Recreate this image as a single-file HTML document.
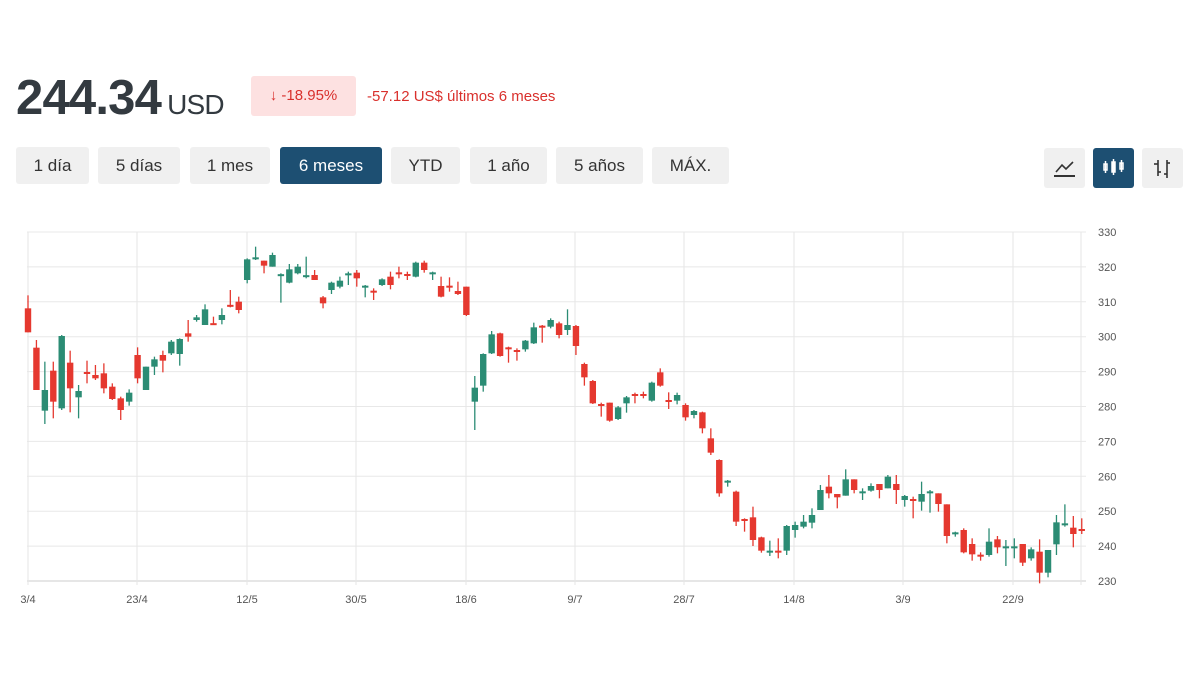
<!DOCTYPE html>
<html><head><meta charset="utf-8"><style>
body{margin:0;width:1200px;height:675px;background:#fff;font-family:"Liberation Sans",sans-serif;overflow:hidden;position:relative}
.a{position:absolute}
.btn{position:absolute;top:147px;height:37px;background:#f0f0f0;border-radius:3px;color:#333;font-size:17px;line-height:37px;text-align:center}
.sel{background:#1d4f72;color:#fff}
.ib{position:absolute;top:148px;width:41px;height:40px;background:#f0f0f0;border-radius:3px}
</style></head><body>
<div class="a" style="left:16px;top:70px;font-size:49px;color:#333a40;letter-spacing:-0.8px;font-weight:bold;-webkit-text-stroke:0px">244.34<span style="font-size:28px;margin-left:6px;font-weight:normal">USD</span></div>
<div class="a" style="left:251px;top:76px;width:105px;height:40px;background:#fde1e1;border-radius:3px;color:#d9302c;font-size:15px;line-height:40px;text-align:center">↓ -18.95%</div>
<div class="a" style="left:367px;top:88px;color:#d9302c;font-size:15px">-57.12 US$ últimos 6 meses</div>
<div class="btn" style="left:16px;width:73px">1 día</div>
<div class="btn" style="left:98px;width:82px">5 días</div>
<div class="btn" style="left:190px;width:80px">1 mes</div>
<div class="btn sel" style="left:280px;width:102px">6 meses</div>
<div class="btn" style="left:391px;width:69px">YTD</div>
<div class="btn" style="left:470px;width:77px">1 año</div>
<div class="btn" style="left:556px;width:87px">5 años</div>
<div class="btn" style="left:652px;width:77px">MÁX.</div>
<div class="ib" style="left:1044px"><svg width="41" height="40"><path d="M12 24 L18 17 L22 21 L29 14" stroke="#333" stroke-width="1.6" fill="none"/><line x1="10" y1="28" x2="31" y2="28" stroke="#333" stroke-width="2"/></svg></div>
<div class="ib" style="left:1093px;background:#1d4f72"><svg width="41" height="40"><g stroke="#fff" stroke-width="1.5" fill="none"><rect x="11" y="16" width="3" height="6"/><line x1="12.5" y1="13" x2="12.5" y2="25"/><rect x="19" y="14" width="3" height="10" fill="#fff"/><line x1="20.5" y1="11" x2="20.5" y2="27"/><rect x="27" y="15" width="3" height="6"/><line x1="28.5" y1="12" x2="28.5" y2="24"/></g></svg></div>
<div class="ib" style="left:1142px"><svg width="41" height="40"><g stroke="#333" stroke-width="1.6"><line x1="16" y1="12" x2="16" y2="28"/><line x1="12" y1="16" x2="16" y2="16"/><line x1="16" y1="24" x2="19" y2="24"/><line x1="25" y1="12" x2="25" y2="30"/><line x1="22" y1="26" x2="25" y2="26"/><line x1="25" y1="15" x2="28" y2="15"/></g></svg></div>
<svg class="a" style="left:0;top:0" width="1200" height="675" id="c"></svg>
<script>
var s='';
for(var k=0;k<=10;k++){var y=232+k*34.9;s+='<line x1="27" x2="1086" y1="'+y+'" y2="'+y+'" stroke="'+(k==10?'#ccc':'#e8e8e8')+'"/>';
s+='<text x="1098" y="'+(y+4)+'" font-size="11" fill="#555" font-family="Liberation Sans">'+(330-k*10)+'</text>';}
var vx=[28,137,247,356,466,575,684,794,903,1013,1081],lb=['3/4','23/4','12/5','30/5','18/6','9/7','28/7','14/8','3/9','22/9'];
vx.forEach(function(x,i){s+='<line x1="'+x+'" x2="'+x+'" y1="232" y2="585" stroke="#e6e6e6"/>';if(lb[i])s+='<text x="'+x+'" y="603" font-size="11" fill="#555" text-anchor="middle" font-family="Liberation Sans">'+lb[i]+'</text>';});
var G='g',R='r';
var d=[[265,337,226,337,R],[383,510,360,510,R],[510,572,425,612,G],[452,545,425,595,R],[348,565,345,570,G],[428,505,392,577,R],[513,532,495,595,G],[456,462,422,490,R],[465,475,435,480,R],[460,505,430,520,R],[500,537,490,540,R],[535,570,530,600,R],[518,545,508,557,G],[405,475,382,490,R],[440,510,440,510,G],[418,440,410,465,G],[405,422,392,457,R],[365,400,360,405,G],[357,402,355,437,G],[340,350,300,365,R],[292,300,285,305,G],[268,315,253,315,G],[310,315,290,315,R],[285,300,265,313,G],[255,260,210,262,R],[245,270,230,280,R],[118,180,115,190,G],[112,118,80,120,G],[122,137,122,160,R],[105,140,98,140,G],[163,168,160,248,G],[148,188,132,190,G],[140,160,132,163,G],[166,171,110,175,G],[165,180,150,180,R],[232,250,228,265,R],[188,210,185,222,G],[182,200,170,205,G],[160,166,155,195,G],[158,175,150,200,R],[197,203,195,232,G],[212,218,205,240,R],[178,195,175,198,G],[170,195,155,208,R],[157,163,140,175,R],
[162,168,155,180,R],[128,170,125,172,G],[128,150,122,158,R],[157,163,155,180,G],[198,230,170,232,R],[197,203,172,215,R],[213,222,185,225,R],[200,285,200,288,R],[503,545,468,630,G],[402,497,400,515,G],[343,400,333,402,G],[340,408,338,410,R],[382,388,380,428,R],[390,396,385,422,R],[362,388,360,395,G],[322,370,308,372,G],[317,323,315,368,R],[300,320,295,325,G],[310,345,305,355,R],[315,330,268,345,G],[318,378,315,405,R],[432,472,428,497,R],[483,550,480,552,R],[552,558,548,590,R],[548,602,548,605,R],[562,597,558,600,G],[532,550,528,578,G],[522,528,518,550,R],[522,528,515,535,R],[488,542,485,545,G],[457,497,445,500,R],[540,546,517,567,R],[525,542,518,553,G],[555,592,550,602,R],[573,585,570,595,G],[577,625,575,640,R],[655,698,625,705,R],[720,820,718,830,R],[782,788,780,800,G],[815,905,812,918,R],[897,903,895,935,R],[892,960,860,978,R],[952,992,950,998,R],[992,998,962,1008,G],[992,998,955,1015,R],[918,992,915,1005,G],[915,930,905,953,G]];
var z4=[[1145,1160,1125,1165,G],[1125,1148,1105,1165,G],[1050,1110,1035,1110,G],[1040,1060,1005,1075,R],[1062,1072,1062,1105,R],[1018,1067,988,1067,G],[1018,1050,1018,1060,R],[1054,1060,1045,1080,G],[1038,1052,1030,1055,G],[1032,1050,1032,1075,R],[1010,1045,1005,1045,G],[1032,1050,1005,1092,R],[1068,1080,1065,1100,G],[1077,1083,1070,1135,R],[1062,1085,1025,1112,G],[1054,1060,1050,1118,G],[1060,1092,1060,1115,R],[1093,1188,1093,1210,R],[1177,1183,1175,1190,G],[1170,1237,1165,1240,R],[1212,1243,1195,1262,R],[1244,1250,1237,1262,R],[1205,1245,1165,1250,G],[1198,1222,1188,1240,R],[1219,1225,1200,1278,G],[1219,1225,1195,1255,G],[1212,1268,1212,1278,R],[1228,1255,1222,1262,G],[1235,1298,1198,1330,R],[1230,1298,1230,1312,G],[1147,1213,1125,1245,G],[1150,1156,1093,1160,G],[1163,1182,1128,1222,R],[1167,1173,1135,1182,R]];
z4.forEach(function(c){d.push([c[0]-240,c[1]-240,c[2]-240,c[3]-240,c[4]]);});
function Y(z){return 220+z/3;}
d.forEach(function(c,i){var x=28+8.43*i,col=c[4]==G?'#2b8c74':'#e5382f';
var t=Y(c[0]),b=Y(c[1]);if(b-t<2){var m=(t+b)/2;t=m-1;b=m+1;}
s+='<line x1="'+x+'" x2="'+x+'" y1="'+Y(c[2])+'" y2="'+Y(c[3])+'" stroke="'+col+'" stroke-width="1.3"/>';
s+='<rect x="'+(x-3.2)+'" y="'+t+'" width="6.4" height="'+(b-t)+'" fill="'+col+'"/>';});
document.getElementById('c').innerHTML=s;
</script>
</body></html>
